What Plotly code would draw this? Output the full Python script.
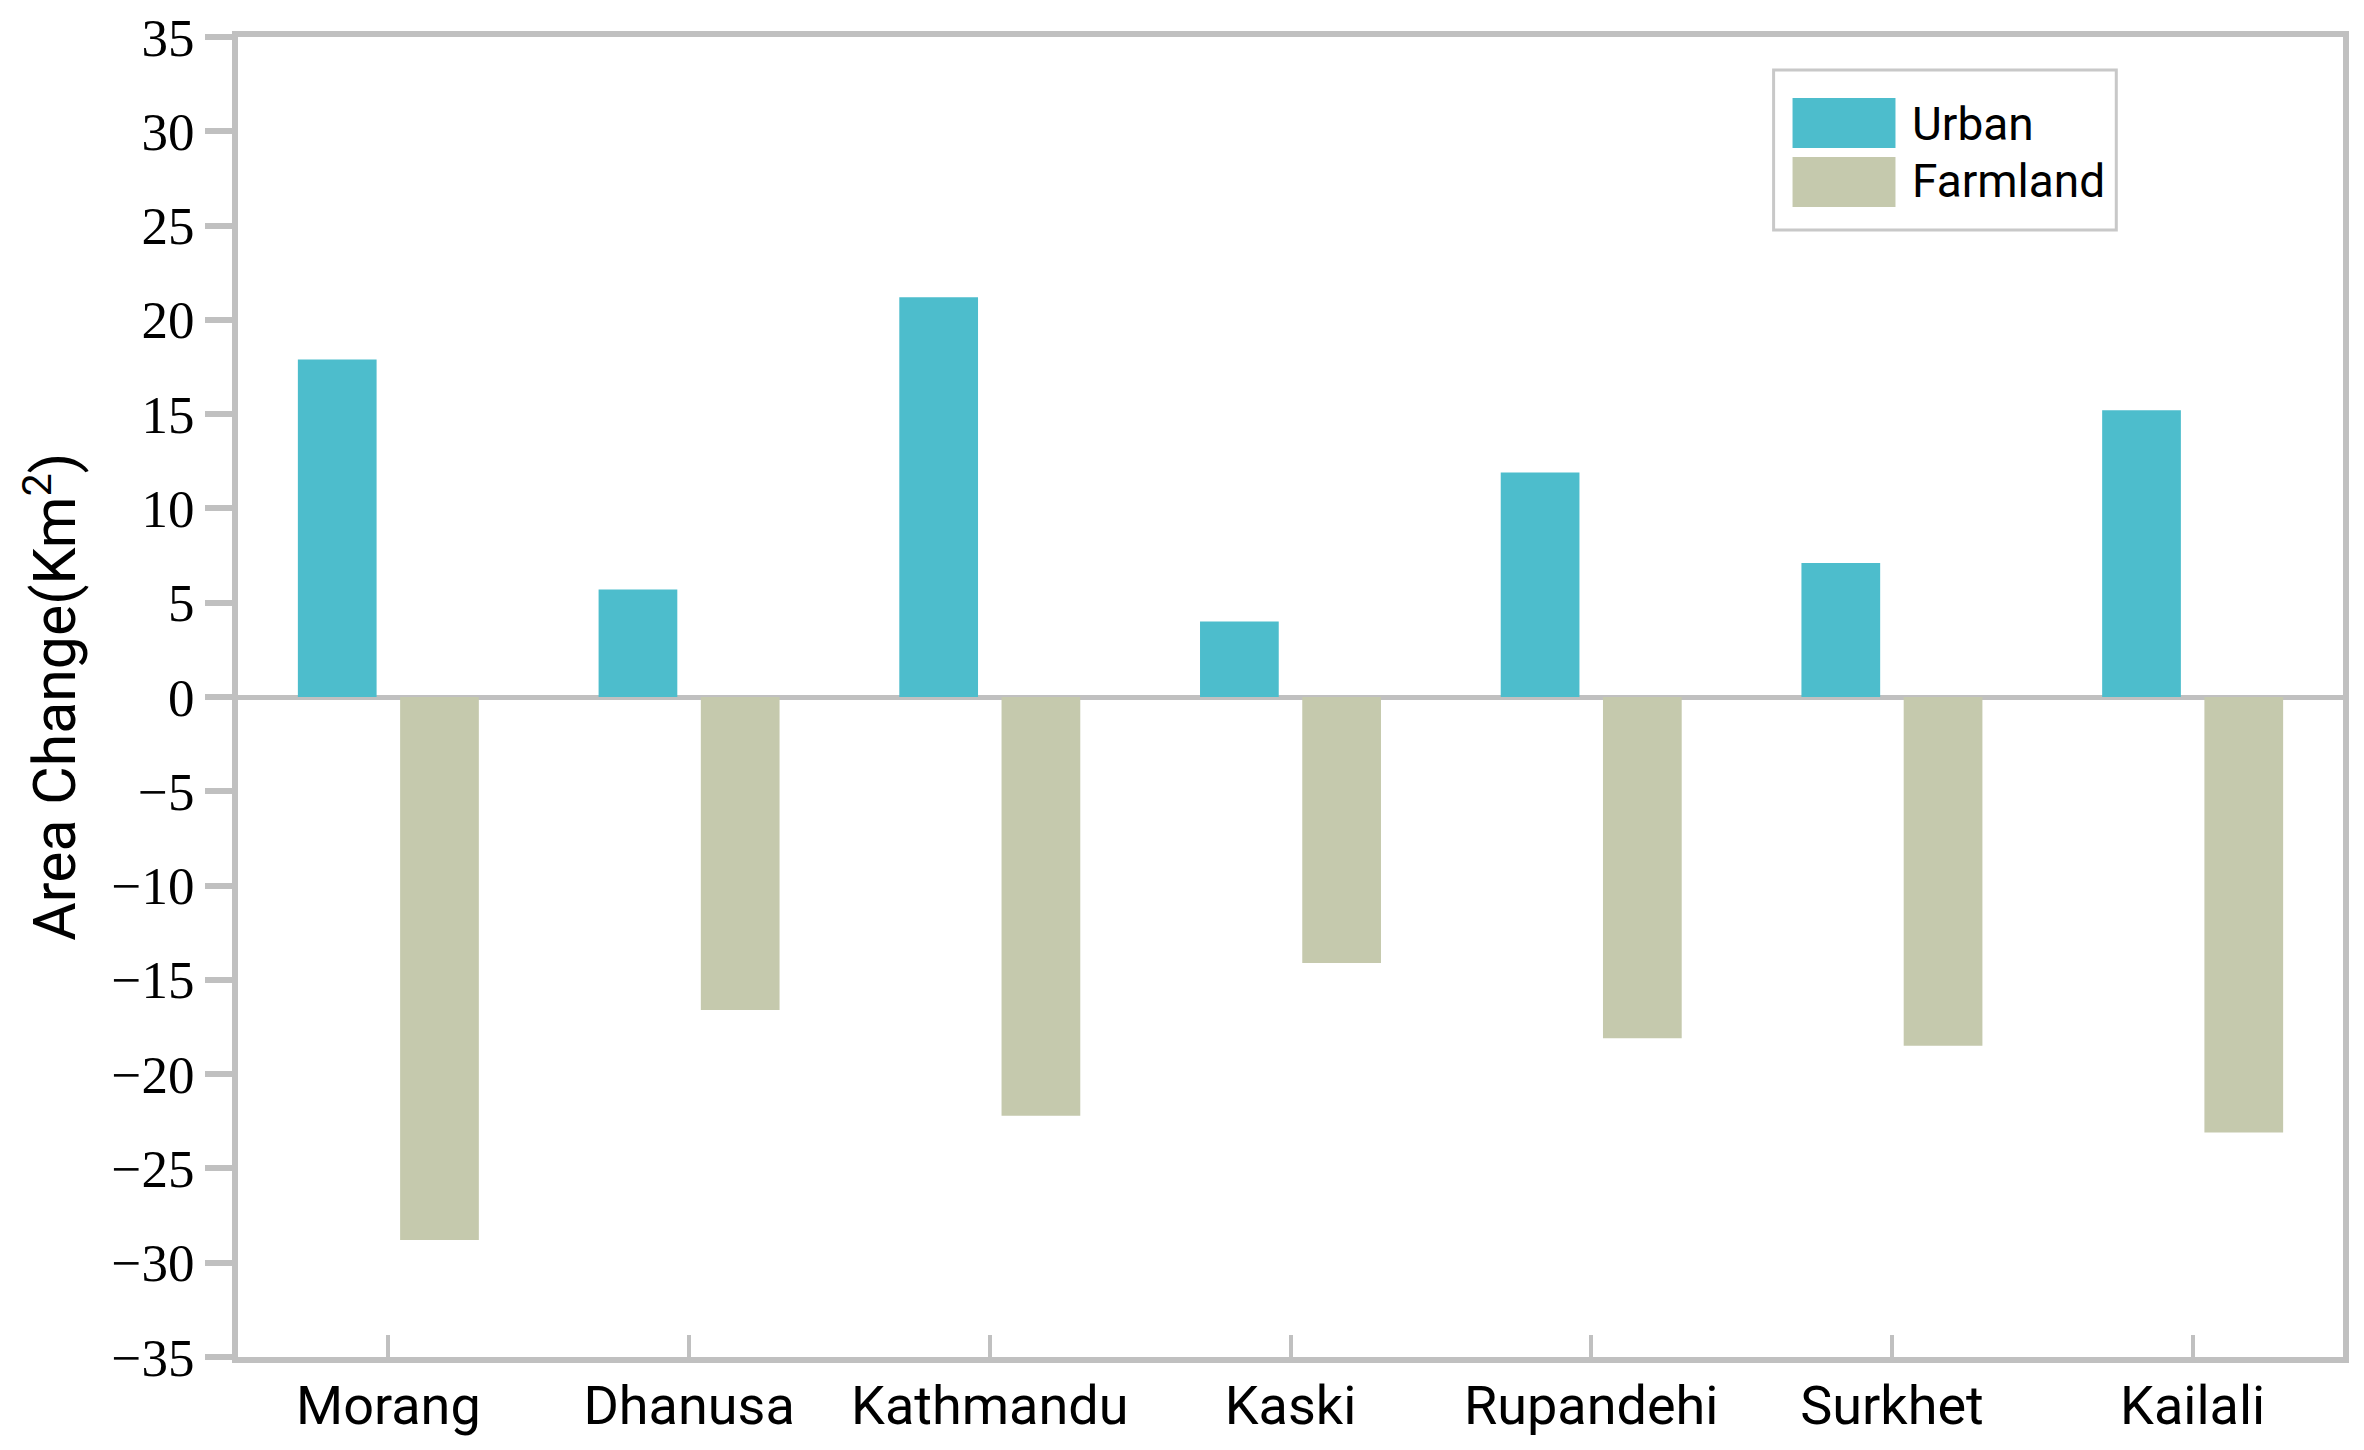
import plotly.graph_objects as go

districts = ["Morang", "Dhanusa", "Kathmandu", "Kaski", "Rupandehi", "Surkhet", "Kailali"]
urban = [17.9, 5.7, 21.2, 4.0, 11.9, 7.1, 15.2]
farmland = [-28.8, -16.6, -22.2, -14.1, -18.1, -18.5, -23.1]
series_names = ["Urban", "Farmland"]
y_ticks = list(range(-35, 36, 5))
y_title = "Area Change(Km<sup>2</sup>)"

URBAN_COLOR = "#4DBDCC"
FARM_COLOR = "#C5C9AD"
AXIS_GRAY = "#C0C0C0"
SANS = "Roboto, 'Noto Sans', sans-serif"
SERIF = "'Liberation Serif', 'DejaVu Serif', serif"

fig = go.Figure()
fig.add_bar(x=districts, y=urban, name=series_names[0],
            marker=dict(color=URBAN_COLOR, line=dict(width=0)))
fig.add_bar(x=districts, y=farmland, name=series_names[1],
            marker=dict(color=FARM_COLOR, line=dict(width=0)))

fig.update_layout(
    width=2348, height=1434,
    margin=dict(l=230, r=13, t=29, b=85),
    barmode="group", bargap=0.32, bargroupgap=0.23,
    plot_bgcolor="white", paper_bgcolor="white",
    showlegend=False,
)

fig.update_yaxes(
    range=[-35, 35], tickvals=y_ticks, automargin=False,
    ticks="outside", ticklen=27, tickwidth=6, tickcolor=AXIS_GRAY,
    showline=True, linewidth=6, linecolor=AXIS_GRAY, mirror=True,
    zeroline=True, zerolinecolor=AXIS_GRAY, zerolinewidth=5,
    showgrid=False, ticklabeloverflow="allow",
    tickfont=dict(family=SERIF, size=53, color="black"),
)
fig.update_xaxes(
    range=[-0.5, len(districts) - 0.5], automargin=False,
    ticks="inside", ticklen=22, tickwidth=4, tickcolor=AXIS_GRAY,
    showline=True, linewidth=6, linecolor=AXIS_GRAY, mirror=True,
    showgrid=False,
    tickfont=dict(family=SANS, size=54, color="black"),
    ticklabelstandoff=-4,
)

# Y axis title (rotated text)
fig.add_annotation(xref="paper", yref="paper", x=-0.089, y=0.5,
                   text=y_title, textangle=-90, showarrow=False,
                   xanchor="center", yanchor="middle",
                   font=dict(family=SANS, size=59, color="black"))

# Custom legend with large swatches (paper coordinates)
fig.add_shape(type="rect", xref="paper", yref="paper",
              x0=0.7295, x1=0.8923, y0=0.8538, y1=0.975,
              line=dict(color="#C8C8C8", width=3), fillcolor="white", layer="above")
legend_colors = [URBAN_COLOR, FARM_COLOR]
swatch_y = [(0.9159, 0.9538), (0.8712, 0.9091)]
text_y = [0.934, 0.891]
for name, col, (sy0, sy1), ty in zip(series_names, legend_colors, swatch_y, text_y):
    fig.add_shape(type="rect", xref="paper", yref="paper",
                  x0=0.7385, x1=0.7874, y0=sy0, y1=sy1,
                  line=dict(width=0), fillcolor=col, layer="above")
    fig.add_annotation(xref="paper", yref="paper", x=0.7945, y=ty,
                       text=name, showarrow=False, xanchor="left", yanchor="middle",
                       font=dict(family=SANS, size=46, color="black"))

fig.write_html("out.html")
